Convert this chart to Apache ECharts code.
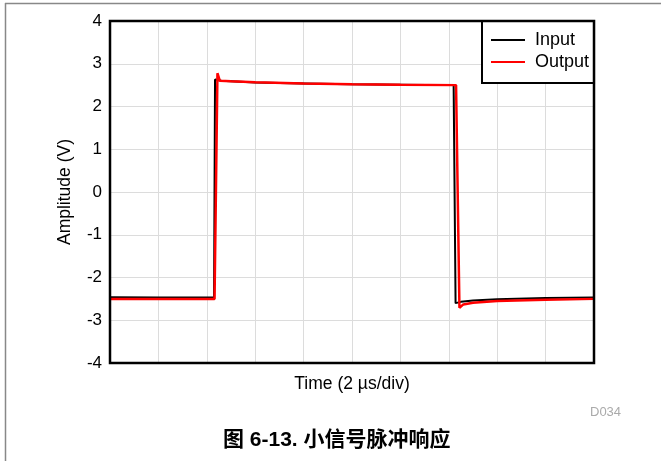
<!DOCTYPE html>
<html><head><meta charset="utf-8">
<script src="https://cdn.jsdelivr.net/npm/echarts@6/dist/echarts.min.js"></script>
<style>html,body{margin:0;padding:0;background:#fff}#c{width:661px;height:461px}</style>
</head><body><div id="c"></div>
<script>
// Time in divisions (2 µs/div), amplitude in V
const inputX  = [0, 1, 2.15, 2.17, 2.3, 3, 4, 5, 6, 7.1, 7.14, 7.25, 7.5, 8, 9, 10];
const inputY  = [-2.46, -2.47, -2.47, 2.63, 2.6, 2.56, 2.54, 2.52, 2.51, 2.5, -2.6, -2.57, -2.54, -2.51, -2.48, -2.47];
const outputX = [0, 1, 2.16, 2.22, 2.27, 2.5, 3, 4, 5, 6, 7.15, 7.22, 7.3, 7.5, 8, 9, 10];
const outputY = [-2.5, -2.5, -2.5, 2.78, 2.6, 2.59, 2.57, 2.54, 2.52, 2.51, 2.5, -2.71, -2.63, -2.59, -2.55, -2.52, -2.5];
const yTicks = [-4, -3, -2, -1, 0, 1, 2, 3, 4];

const inputData = inputX.map((x, i) => [x, inputY[i]]);
const outputData = outputX.map((x, i) => [x, outputY[i]]);

const FONT = 'Liberation Sans, Arial, sans-serif';
const chart = echarts.init(document.getElementById('c'));
chart.setOption({
  animation: false,
  textStyle: { fontFamily: FONT },
  grid: { left: 110, top: 21, width: 484, height: 342 },
  xAxis: {
    type: 'value', min: 0, max: 10, interval: 1,
    axisLabel: { show: false }, axisTick: { show: false },
    axisLine: { show: false },
    splitLine: { show: true, lineStyle: { color: '#dcdcdc', width: 1 } },
    name: 'Time (2 µs/div)', nameLocation: 'middle', nameGap: 12,
    nameTextStyle: { fontSize: 17.5, color: '#000' }
  },
  yAxis: {
    type: 'value', min: yTicks[0], max: yTicks[yTicks.length - 1], interval: 1,
    axisLabel: { fontSize: 17, color: '#000', margin: 8 },
    axisTick: { show: false }, axisLine: { show: false },
    splitLine: { show: true, lineStyle: { color: '#dcdcdc', width: 1 } },
    name: 'Amplitude (V)', nameLocation: 'middle', nameGap: 36,
    nameTextStyle: { fontSize: 17.5, color: '#000' }
  },
  legend: {
    left: 482, top: 21, orient: 'vertical',
    borderColor: '#000', borderWidth: 2, padding: [9, 5, 11, 9],
    itemGap: 2, itemWidth: 34, itemHeight: 2, icon: 'rect',
    textStyle: { fontSize: 18, lineHeight: 20, color: '#000', padding: [0, 0, 0, 5] },
    backgroundColor: '#fff',
    data: ['Input', 'Output']
  },
  series: [
    { name: 'Input', type: 'line', data: inputData, symbol: 'none', color: '#000', lineStyle: { color: '#000', width: 2 } },
    { name: 'Output', type: 'line', data: outputData, symbol: 'none', color: '#f00', lineStyle: { color: '#f00', width: 2.5 } }
  ],
  graphic: [
    { type: 'rect', z: 100, shape: { x: 110, y: 21, width: 484, height: 342 }, style: { fill: 'none', stroke: '#000', lineWidth: 2.5 } },
    { type: 'line', shape: { x1: 5, y1: 3.5, x2: 661, y2: 3.5 }, style: { stroke: '#888', lineWidth: 1.5 } },
    { type: 'line', shape: { x1: 5.5, y1: 3, x2: 5.5, y2: 461 }, style: { stroke: '#888', lineWidth: 1.5 } },
    { type: 'text', left: 590, top: 406, style: { text: 'D034', fontSize: 13, fill: '#aaa', fontFamily: FONT } },
    { type: 'text', left: 223, top: 430, style: { text: '图 6-13. 小信号脉冲响应', fontSize: 21, fontWeight: 'bold', fill: '#000', fontFamily: 'Liberation Sans, Noto Sans CJK SC, sans-serif' } }
  ]
});
</script></body></html>
